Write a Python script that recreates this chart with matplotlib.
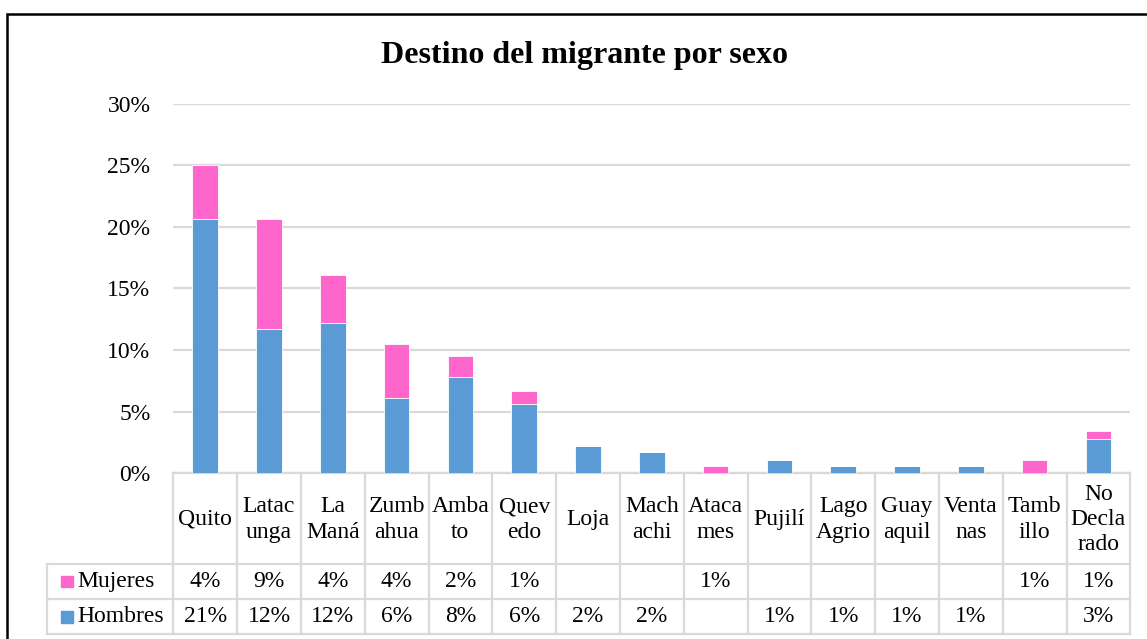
import matplotlib
matplotlib.use("Agg")
import matplotlib.pyplot as plt
from matplotlib.patches import Rectangle
import numpy as np

# datos (porcentaje del total)
destinos = ["Quito", "Latac\nunga", "La\nManá", "Zumb\nahua", "Amba\nto", "Quev\nedo",
            "Loja", "Mach\nachi", "Ataca\nmes", "Pujilí", "Lago\nAgrio", "Guay\naquil",
            "Venta\nnas", "Tamb\nillo", "No\nDecla\nrado"]
hombres = [20.6, 11.7, 12.2, 6.1, 7.8, 5.6, 2.2, 1.7, 0, 1.1, 0.6, 0.6, 0.6, 0, 2.8]
mujeres = [4.4, 8.9, 3.9, 4.4, 1.7, 1.1, 0, 0, 0.6, 0, 0, 0, 0, 1.1, 0.6]

c_h = "#5B9BD5"
c_m = "#FF66CC"
gris = "#D9D9D9"
fs = 17

plt.rcParams["font.family"] = ["Liberation Serif", "DejaVu Serif"]
W, H = 1147, 639
fig = plt.figure(figsize=(W / 100, H / 100), dpi=100)

# area del grafico (en pixeles)
x0, x1 = 173.3, 1130.3
y0, y30 = 473.3, 103.5
ax = fig.add_axes([x0 / W, 1 - y0 / H, (x1 - x0) / W, (y0 - y30) / H])
x = np.arange(len(destinos))
ax.bar(x, hombres, width=0.4, color=c_h, edgecolor="white", linewidth=0.6, zorder=3)
ax.bar(x, mujeres, width=0.4, bottom=hombres, color=c_m, edgecolor="white", linewidth=0.6, zorder=3)
ax.set_xlim(-0.5, len(destinos) - 0.5)
ax.set_ylim(0, 30)
ax.set_yticks(range(0, 31, 5))
ax.set_yticklabels([f"{v}%" for v in range(0, 31, 5)], fontsize=fs)
ax.tick_params(axis="y", length=0, pad=16.5)
ax.set_xticks([])
ax.grid(axis="y", color=gris, linewidth=1.6, zorder=0)
for s in ["top", "right", "left"]:
    ax.spines[s].set_visible(False)
ax.spines["bottom"].set_color(gris)
ax.spines["bottom"].set_linewidth(1.6)

# tabla de datos debajo
col = (x1 - x0) / len(destinos)
tx0, ty1 = 47, 634.3
ta = fig.add_axes([tx0 / W, 1 - ty1 / H, (x1 - tx0) / W, (ty1 - y0) / H])
ta.set_xlim(-0.5 - (x0 - tx0) / col, len(destinos) - 0.5)
ta.set_ylim(ty1 - y0, 0)
ta.axis("off")
filas = [0, 563.7 - y0, 599 - y0, ty1 - y0]
xl = -0.5 - (x0 - tx0) / col
kw = dict(color=gris, linewidth=1.6, clip_on=False)
for yy in filas[1:]:
    ta.plot([xl, len(destinos) - 0.5], [yy, yy], **kw)
for i in range(len(destinos) + 1):
    ta.plot([i - 0.5, i - 0.5], [filas[0], filas[3]], **kw)
ta.plot([xl, xl], [filas[1], filas[3]], **kw)

for i, d in enumerate(destinos):
    ta.text(i, (filas[0] + filas[1]) / 2 + 1, d, ha="center", va="center",
            fontsize=fs, linespacing=1.28)
    if mujeres[i] > 0:
        ta.text(i, (filas[1] + filas[2]) / 2, f"{mujeres[i]:.0f}%", ha="center", va="center", fontsize=fs)
    if hombres[i] > 0:
        ta.text(i, (filas[2] + filas[3]) / 2, f"{hombres[i]:.0f}%", ha="center", va="center", fontsize=fs)

for nombre, c, (a, b) in [("Mujeres", c_m, filas[1:3]), ("Hombres", c_h, filas[2:4])]:
    yc = (a + b) / 2
    ta.add_patch(Rectangle((xl + 14 / col, yc - 5.8), 11.7 / col, 11.7, color=c, clip_on=False))
    ta.text(xl + 30 / col, yc, nombre, ha="left", va="center", fontsize=fs)

fig.text(584.5 / W, 1 - 55 / H, "Destino del migrante por sexo", ha="center", va="center",
         fontsize=23, fontweight="bold")

# marco exterior
fig.add_artist(Rectangle((7 / W, -0.1), 1.1, 1.1 - 14 / H, transform=fig.transFigure,
                         fill=False, edgecolor="black", linewidth=1.8))

fig.savefig("out.png", dpi=100)
